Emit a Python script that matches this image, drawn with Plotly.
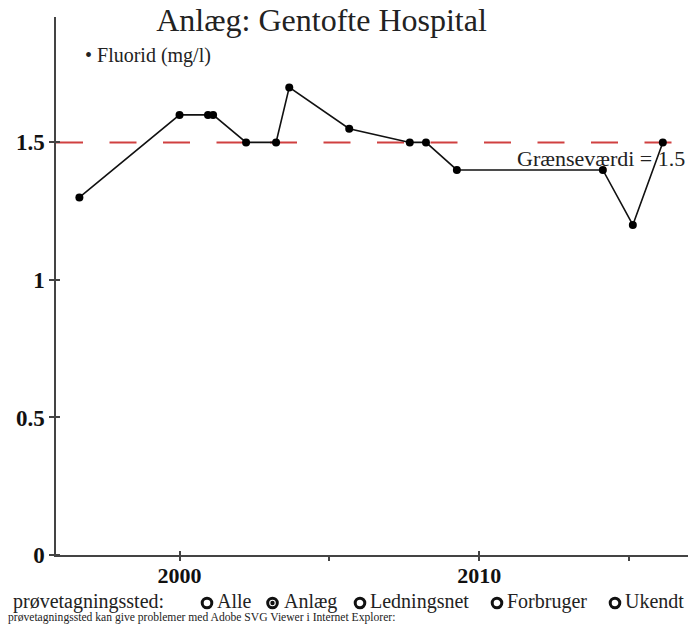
import plotly.graph_objects as go

# ---- data ----
years = [1996.66, 2000.0, 2000.95, 2001.12, 2002.22, 2003.22, 2003.66,
         2005.66, 2007.68, 2008.22, 2009.25, 2014.12, 2015.12, 2016.12]
fluorid = [1.3, 1.6, 1.6, 1.6, 1.5, 1.5, 1.7,
           1.55, 1.5, 1.5, 1.4, 1.4, 1.2, 1.5]
limit_value = 1.5
x_tickvals = [2000, 2005, 2010, 2015]
x_ticktext = ["2000", "", "2010", ""]
y_tickvals = [0, 0.5, 1, 1.5]
y_ticktext = ["0", "0.5", "1", "1.5"]
title_text = "Anlæg: Gentofte Hospital"
series_name = "Fluorid (mg/l)"
limit_label = "Grænseværdi = 1.5"
radio_prefix = "prøvetagningssted:"
radio_options = ["Alle", "Anlæg", "Ledningsnet", "Forbruger", "Ukendt"]
radio_selected = "Anlæg"
footnote = "prøvetagningssted kan give problemer med Adobe SVG Viewer i Internet Explorer:"

W, H = 692, 625
ML, MR, MT, MB = 56, 4, 17, 70
PW, PH = W - ML - MR, H - MT - MB
SERIF = "Liberation Serif, Times New Roman, serif"


def px(x):
    return (x - ML) / PW


def py(y):
    return (H - MB - y) / PH


fig = go.Figure()
fig.add_trace(go.Scatter(
    x=years, y=fluorid, mode="lines+markers", name=series_name,
    line=dict(color="#111", width=1.6),
    marker=dict(color="#000", size=8),
    showlegend=False,
))

# limit line
fig.add_shape(type="line", xref="paper", yref="y", x0=0, x1=1,
              y0=limit_value, y1=limit_value,
              line=dict(color="rgb(208,64,64)", width=2, dash="27px,26.5px"),
              layer="below")

annotations = []
annotations.append(dict(xref="paper", yref="paper", x=px(687), y=py(159),
                        xanchor="right", yanchor="middle", showarrow=False,
                        text=limit_label,
                        font=dict(family=SERIF, size=22, color="#222")))
annotations.append(dict(xref="paper", yref="paper", x=px(83), y=py(56),
                        xanchor="left", yanchor="middle", showarrow=False,
                        text="• " + series_name,
                        font=dict(family=SERIF, size=20, color="#222")))

# radio row
radio_text_x = [215, 282, 368, 505, 623]
radio_circle_x = [207, 272.5, 360, 497, 615]
row_y = 601
annotations.append(dict(xref="paper", yref="paper", x=px(11), y=py(row_y),
                        xanchor="left", yanchor="middle", showarrow=False,
                        text=radio_prefix,
                        font=dict(family=SERIF, size=20, color="#222")))
for name, tx, cx in zip(radio_options, radio_text_x, radio_circle_x):
    annotations.append(dict(xref="paper", yref="paper", x=px(tx), y=py(row_y),
                            xanchor="left", yanchor="middle", showarrow=False,
                            text=name,
                            font=dict(family=SERIF, size=20, color="#222")))
    fig.add_shape(type="circle", xref="paper", yref="paper",
                  xsizemode="pixel", ysizemode="pixel",
                  xanchor=px(cx), yanchor=py(row_y + 2),
                  x0=-4.8, x1=4.8, y0=-4.8, y1=4.8,
                  line=dict(color="#111", width=3))
    if name == radio_selected:
        fig.add_shape(type="circle", xref="paper", yref="paper",
                      xsizemode="pixel", ysizemode="pixel",
                      xanchor=px(cx), yanchor=py(row_y + 2),
                      x0=-2.2, x1=2.2, y0=-2.2, y1=2.2,
                      fillcolor="#111", line=dict(color="#111", width=0))

annotations.append(dict(xref="paper", yref="paper", x=px(6), y=py(617),
                        xanchor="left", yanchor="middle", showarrow=False,
                        text=footnote,
                        font=dict(family=SERIF, size=11.6, color="#222")))

fig.update_layout(
    width=W, height=H,
    margin=dict(l=ML, r=MR, t=MT, b=MB),
    paper_bgcolor="white", plot_bgcolor="white",
    title=dict(text=title_text, xref="container", yref="container",
               x=321.5 / W, y=1 - 20 / H, xanchor="center", yanchor="middle",
               font=dict(family=SERIF, size=32, color="#222")),
    annotations=annotations,
    showlegend=False,
)
fig.update_xaxes(range=[1995.88, 2016.96], tickvals=x_tickvals, ticktext=x_ticktext,
                 showgrid=False, zeroline=False, showline=True,
                 linecolor="#444", linewidth=1.5,
                 ticks="inside", ticklen=4, tickcolor="#444", tickwidth=1.5,
                 minor=dict(tickvals=x_tickvals, ticks="outside", ticklen=4,
                            tickcolor="#444", tickwidth=1.5),
                 tickfont=dict(family=SERIF, size=22, color="#111", weight="bold"))
fig.update_yaxes(range=[0, 1.956], tickvals=y_tickvals, ticktext=y_ticktext,
                 showgrid=False, zeroline=False, showline=True,
                 linecolor="#444", linewidth=1.5,
                 ticks="outside", ticklen=5, tickcolor="#444", tickwidth=1.5,
                 minor=dict(tickvals=y_tickvals, ticks="inside", ticklen=4,
                            tickcolor="#444", tickwidth=1.5),
                 tickfont=dict(family=SERIF, size=23, color="#111", weight="bold"))

fig.write_html("out.html", config={"displayModeBar": False},
               post_script="document.body.style.margin='0';document.body.style.overflow='hidden';")
